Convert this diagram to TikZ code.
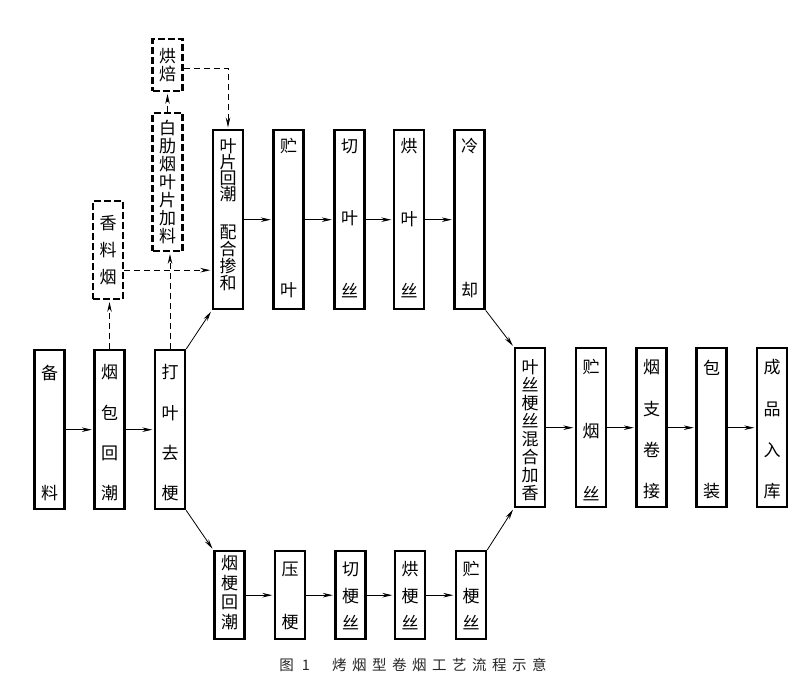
\documentclass[tikz,border=0pt]{standalone}
\usepackage{fontspec}
\setmainfont{Noto Sans CJK SC}
\usetikzlibrary{arrows.meta}
\newcommand\ch[1]{\hbox to 16pt{\hss#1\hss}}
\newcommand\vcol[2]{\vbox to #1{\baselineskip=16pt\lineskip=0pt\lineskiplimit=-100pt #2\kern0pt}}
\newcommand\vnat[2]{\vbox{\baselineskip=#1\lineskip=0pt\lineskiplimit=-100pt #2\kern0pt}}
\tikzset{
  pbox/.style={draw, line width=2.4pt, minimum width=30pt, inner sep=0pt, anchor=north,
    font=\fontsize{17pt}{16pt}\selectfont},
  dbox/.style={pbox, dash pattern=on 7pt off 3pt},
  flow/.style={-{Stealth[length=10pt,width=4.5pt]}, line width=0.8pt, shorten >=1.5pt},
  dflow/.style={flow, dash pattern=on 6pt off 4pt},
}
\begin{document}
\begin{tikzpicture}[x=1pt,y=-1pt]
\useasboundingbox (0,0) rectangle (800,690);
% left row
\node[pbox,minimum height=159pt] (bl)   at (49.5,349) {\vcol{144pt}{\vskip7pt\ch{备}\vfill\ch{料}\vskip1pt}};
\node[pbox,minimum height=159pt] (ybhc) at (109.5,349) {\vcol{144pt}{\vskip7pt\ch{烟}\vfill\ch{包}\vfill\ch{回}\vfill\ch{潮}\vskip1pt}};
\node[pbox,minimum height=159pt] (dyqg) at (170,349) {\vcol{144pt}{\vskip7pt\ch{打}\vfill\ch{叶}\vfill\ch{去}\vfill\ch{梗}\vskip1pt}};
% top row
\node[pbox,minimum height=179pt] (ypc) at (228,129) {\vcol{162pt}{\ch{叶}\ch{片}\ch{回}\ch{潮}\vfill\baselineskip=17pt\ch{配}\ch{合}\ch{掺}\ch{和}\vskip10pt}};
\node[pbox,minimum height=179pt] (zy)  at (288.5,129) {\vcol{162pt}{\ch{贮}\vfill\ch{叶}\vskip3pt}};
\node[pbox,minimum height=179pt] (qys) at (349.5,129) {\vcol{162pt}{\ch{切}\vfill\ch{叶}\vfill\ch{丝}\vskip3pt}};
\node[pbox,minimum height=179pt] (hys) at (409,129) {\vcol{162pt}{\ch{烘}\vfill\ch{叶}\vfill\ch{丝}\vskip3pt}};
\node[pbox,minimum height=179pt] (lq)  at (469.5,129) {\vcol{162pt}{\ch{冷}\vfill\ch{却}\vskip3pt}};
% right row
\node[pbox,minimum height=159pt] (ysgs) at (530,347) {\vcol{146pt}{\vskip5pt\ch{叶}\vfill\ch{丝}\vfill\ch{梗}\vfill\ch{丝}\vfill\ch{混}\vfill\ch{合}\vfill\ch{加}\vfill\ch{香}}};
\node[pbox,minimum height=159pt] (zys)  at (591,347) {\vcol{146pt}{\vskip5pt\ch{贮}\vfill\ch{烟}\vfill\ch{丝}}};
\node[pbox,minimum height=159pt] (yzjj) at (651.5,347) {\vcol{146pt}{\vskip5pt\ch{烟}\vfill\ch{支}\vfill\ch{卷}\vfill\ch{接}\vskip2pt}};
\node[pbox,minimum height=159pt] (bz)   at (711.5,347) {\vcol{146pt}{\vskip5pt\ch{包}\vfill\ch{装}\vskip2pt}};
\node[pbox,minimum height=159pt] (cprk) at (772,347) {\vcol{146pt}{\vskip5pt\ch{成}\vfill\ch{品}\vfill\ch{入}\vfill\ch{库}\vskip2pt}};
% bottom row
\node[pbox,minimum height=88pt] (ygh) at (229.5,550) {\vcol{79pt}{\ch{烟}\vfill\ch{梗}\vfill\ch{回}\vfill\ch{潮}\vskip5pt}};
\node[pbox,minimum height=88pt] (yg)  at (290,550) {\vcol{79pt}{\vskip6pt\ch{压}\vfill\ch{梗}\vskip5pt}};
\node[pbox,minimum height=88pt] (qgs) at (350.5,550) {\vcol{79pt}{\vskip6pt\ch{切}\vfill\ch{梗}\vfill\ch{丝}\vskip5pt}};
\node[pbox,minimum height=88pt] (hgs) at (410,550) {\vcol{79pt}{\vskip6pt\ch{烘}\vfill\ch{梗}\vfill\ch{丝}\vskip5pt}};
\node[pbox,minimum height=88pt] (zgs) at (471,550) {\vcol{79pt}{\vskip6pt\ch{贮}\vfill\ch{梗}\vfill\ch{丝}\vskip5pt}};
% dashed boxes
\node[dbox,minimum height=52pt]  (hb)  at (167.5,38)  {\vnat{18pt}{\ch{烘}\ch{焙}}};
\node[dbox,minimum height=138pt] (blj) at (167.5,112) {\vnat{18pt}{\ch{白}\ch{肋}\ch{烟}\ch{叶}\ch{片}\ch{加}\ch{料}}};
\node[dbox,minimum height=98pt]  (xly) at (108,200)  {\vnat{27pt}{\ch{香}\ch{料}\ch{烟}}};
% caption
\node[font=\fontsize{14.5pt}{14.5pt}\selectfont, text=black!85] (cap) at (413,665)
  {图\hspace{8pt}1\hspace{22pt}烤\hspace{5.5pt}烟\hspace{5.5pt}型\hspace{5.5pt}卷\hspace{5.5pt}烟\hspace{5.5pt}工\hspace{5.5pt}艺\hspace{5.5pt}流\hspace{5.5pt}程\hspace{5.5pt}示\hspace{5.5pt}意};
% solid connectors
\draw[flow] (bl) -- (ybhc);
\draw[flow] (ybhc) -- (dyqg);
\draw[flow] (dyqg.north east) -- (ypc.south west);
\draw[flow] (dyqg.south east) -- (ygh.north west);
\draw[flow] (ypc) -- (zy);
\draw[flow] (zy) -- (qys);
\draw[flow] (qys) -- (hys);
\draw[flow] (hys) -- (lq);
\draw[flow] (lq.south east) -- (ysgs.north west);
\draw[flow] (ygh) -- (yg);
\draw[flow] (yg) -- (qgs);
\draw[flow] (qgs) -- (hgs);
\draw[flow] (hgs) -- (zgs);
\draw[flow] (zgs.north east) -- (ysgs.south west);
\draw[flow] (ysgs) -- (zys);
\draw[flow] (zys) -- (yzjj);
\draw[flow] (yzjj) -- (bz);
\draw[flow] (bz) -- (cprk);
% dashed connectors
\draw[dflow] (ybhc.north) -- (ybhc.north |- xly.south);
\draw[dflow] (dyqg.north) -- (dyqg.north |- blj.south);
\draw[dflow] (blj.north) -- (hb.south);
\draw[dflow] ([yshift=-3pt]hb.east) -| (ypc.north);
\draw[dflow] ([yshift=-20pt]xly.east) -- ([yshift=-20pt]xly.east -| ypc.west);
\end{tikzpicture}
\end{document}
